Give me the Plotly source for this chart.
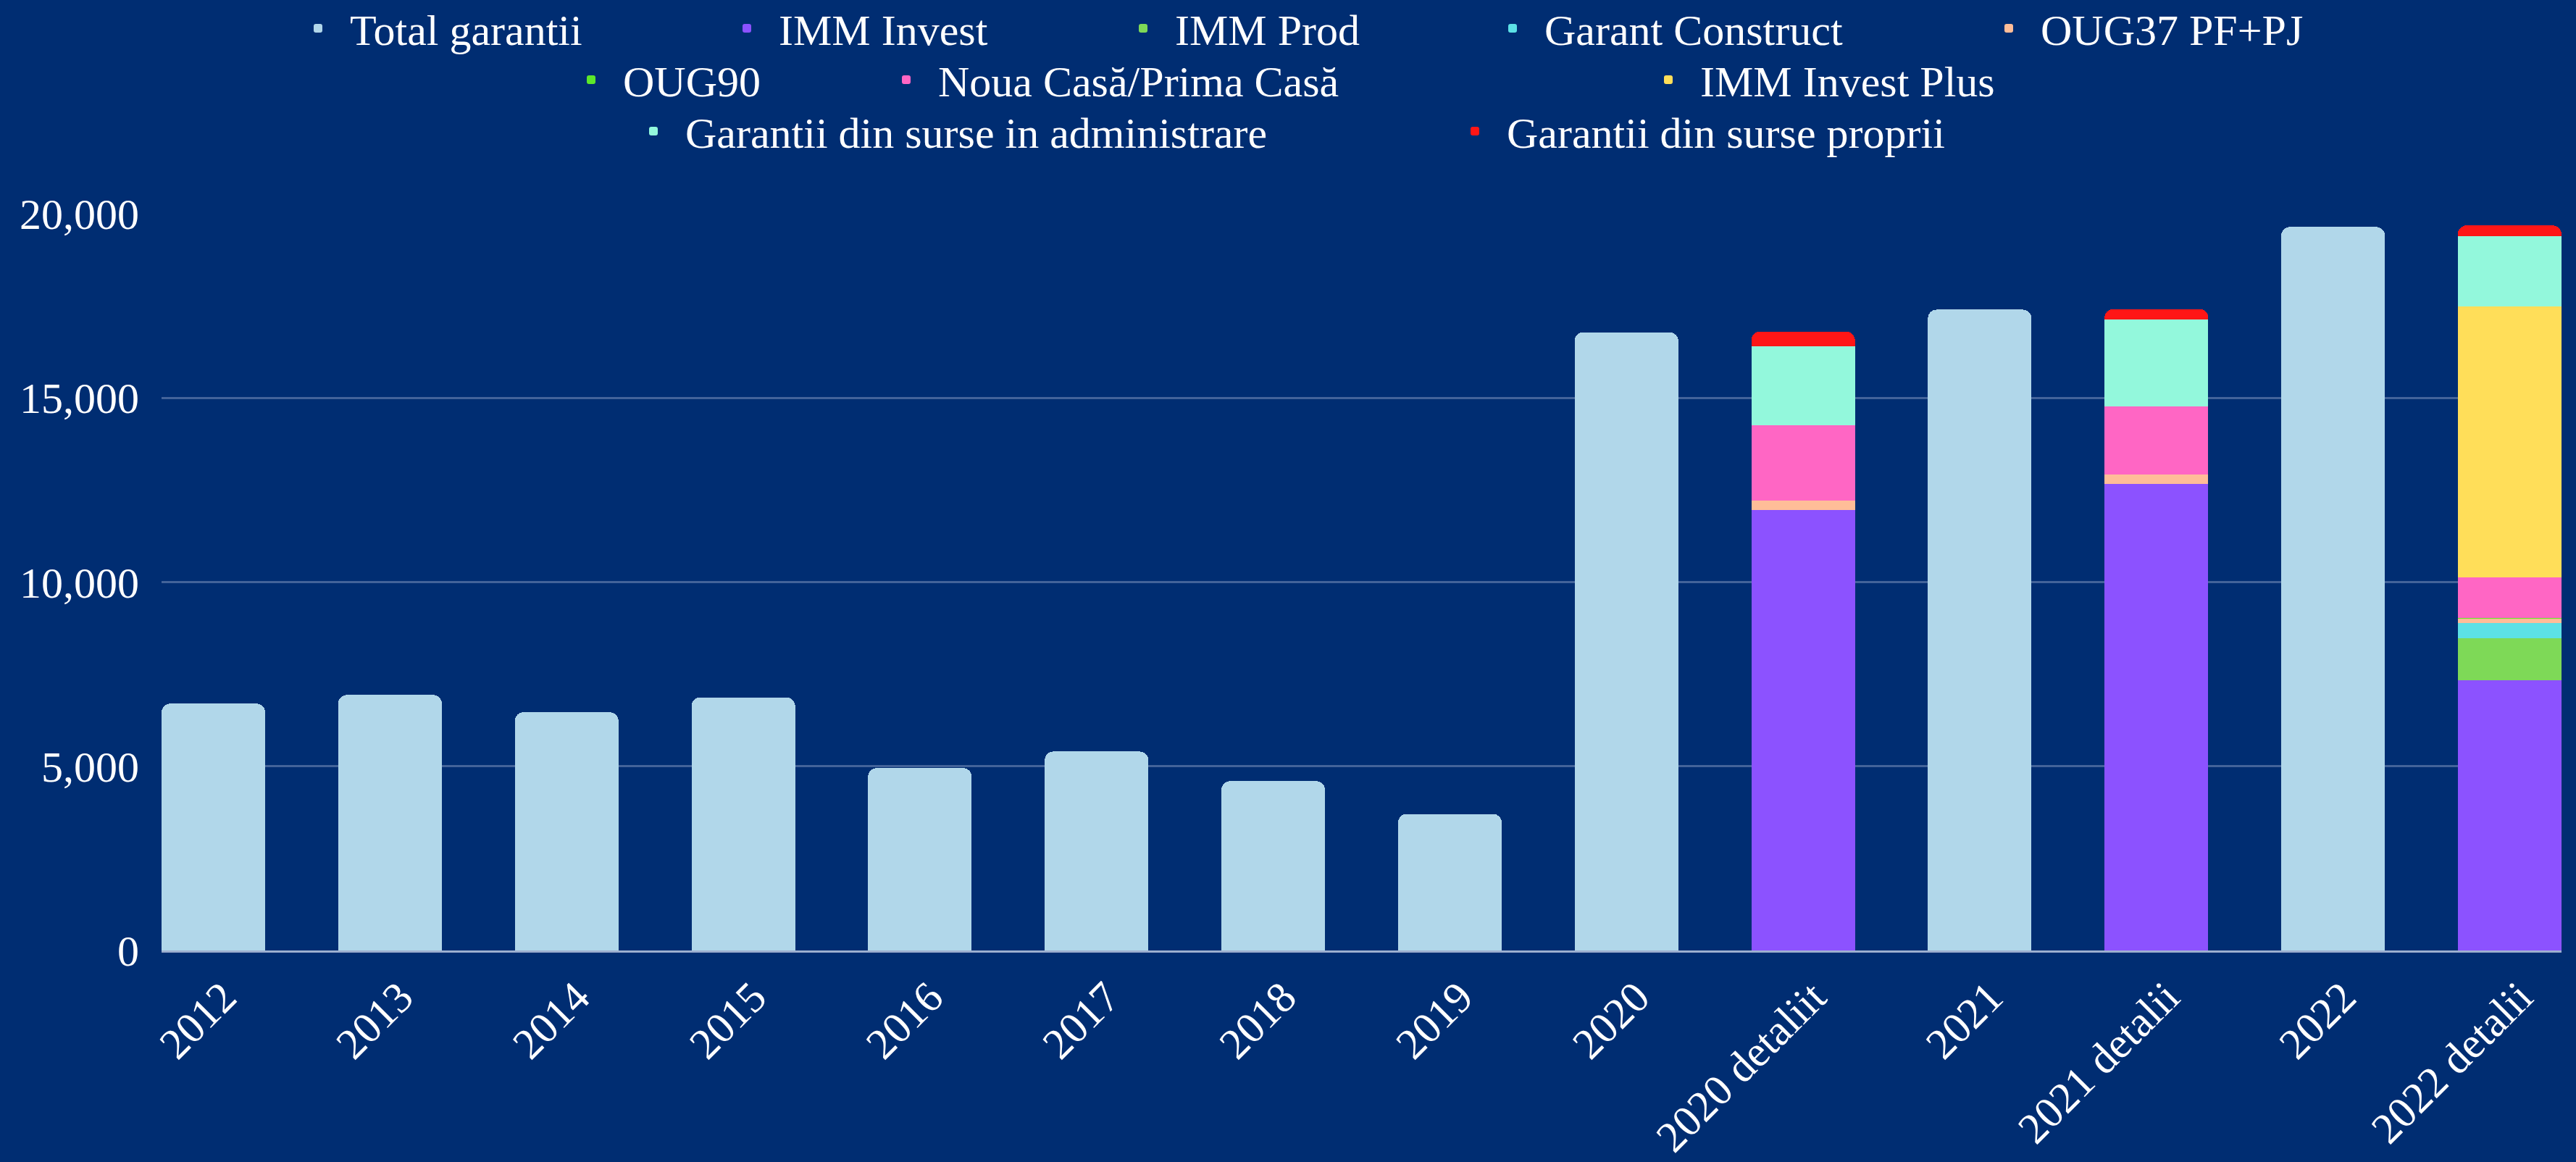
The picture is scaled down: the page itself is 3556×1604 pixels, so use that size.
import plotly.graph_objects as go

# ---------------- data ----------------
categories = ["2012", "2013", "2014", "2015", "2016", "2017", "2018", "2019",
              "2020", "2020 detaliit", "2021", "2021 detalii", "2022", "2022 detalii"]

total_garantii = [6700, 6935, 6465, 6870, 4950, 5400, 4595, 3705,
                  16780, None, 17395, None, 19640, None]
imm_invest = [None] * 9 + [11960, None, 12660, None, 7335]
imm_prod = [None] * 9 + [None, None, None, None, 1140]
garant_construct = [None] * 9 + [None, None, None, None, 415]
oug37 = [None] * 9 + [260, None, 260, None, 120]
oug90 = [None] * 9 + [None, None, None, None, 25]
noua_casa = [None] * 9 + [2040, None, 1840, None, 1100]
imm_invest_plus = [None] * 9 + [None, None, None, None, 7345]
surse_administrare = [None] * 9 + [2150, None, 2360, None, 1910]
surse_proprii = [None] * 9 + [390, None, 290, None, 290]

series = [
    ("Total garantii", total_garantii, "#B1D7EA"),
    ("IMM Invest", imm_invest, "#8C52FF"),
    ("IMM Prod", imm_prod, "#7ED957"),
    ("Garant Construct", garant_construct, "#5CE1E6"),
    ("OUG37 PF+PJ", oug37, "#FFBD98"),
    ("OUG90", oug90, "#5CE829"),
    ("Noua Casă/Prima Casă", noua_casa, "#FF66C4"),
    ("IMM Invest Plus", imm_invest_plus, "#FFDE59"),
    ("Garantii din surse in administrare", surse_administrare, "#93F8DC"),
    ("Garantii din surse proprii", surse_proprii, "#FF1616"),
]

# ---------------- layout helpers ----------------
W, H = 3556, 1604
ML, MR, MT, MB = 223, 20, 295, 292
PW = W - ML - MR
PH = H - MT - MB
BG = "#002D72"
FONT = "Liberation Serif, Times New Roman, serif"
FS = 60


def px_x(px):
    return (px - ML) / PW


def px_y(py):
    return (H - MB - py) / PH


# legend item placement (symbol centre in pixels, row centre in pixels)
legend_pos = [
    (415, 39), (1007, 39), (1554, 39), (2064, 39), (2749, 39),
    (792, 110), (1227, 110), (2279, 110),
    (878, 181), (2012, 181),
]

fig = go.Figure()
layout_legends = {}
for i, (name, vals, color) in enumerate(series):
    lname = "legend" if i == 0 else f"legend{i + 1}"
    fig.add_trace(go.Bar(
        x=categories, y=vals, name=name,
        marker=dict(color=color, line=dict(width=0)),
        legend=lname, showlegend=True,
    ))
    sx, sy = legend_pos[i]
    layout_legends[lname] = dict(
        x=px_x(sx - 20), y=px_y(sy), xanchor="left", yanchor="middle",
        orientation="h", bgcolor="rgba(0,0,0,0)", borderwidth=0,
        font=dict(family=FONT, size=FS, color="white"),
        itemwidth=78, itemclick=False, itemdoubleclick=False,
    )

bar_w = 0.587
fig.update_layout(
    width=W, height=H,
    showlegend=True,
    margin=dict(l=ML, r=MR, t=MT, b=MB, pad=0, autoexpand=False),
    paper_bgcolor=BG, plot_bgcolor=BG,
    barmode="stack",
    bargap=1 - bar_w,
    barcornerradius=12,
    font=dict(family=FONT, size=FS, color="white"),
    xaxis=dict(
        type="category",
        range=[-bar_w / 2, len(categories) - 1 + bar_w / 2],
        tickangle=-45,
        showgrid=False,
        showline=True, linecolor="#9DAFCF", linewidth=3,
        layer="below traces",
        tickfont=dict(family=FONT, size=FS, color="white"),
        ticks="",
        ticklabelshift=14,
        ticklabelstandoff=2,
    ),
    yaxis=dict(
        range=[0, 20000],
        tickvals=[0, 5000, 10000, 15000, 20000],
        tickformat=",d",
        showgrid=True, gridcolor="#43639A", gridwidth=3,
        zeroline=False,
        showline=False,
        ticks="",
        ticklabelstandoff=30,
        tickfont=dict(family=FONT, size=FS, color="white"),
    ),
    **layout_legends,
)

fig.write_html(
    "out.html",
    config={"displayModeBar": False},
    post_script="document.body.style.margin='0';document.body.style.overflow='hidden';",
)
